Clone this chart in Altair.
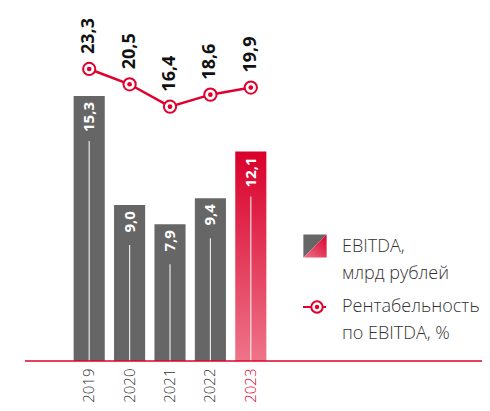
import altair as alt
import pandas as pd

years = ["2019", "2020", "2021", "2022", "2023"]
ebitda = [15.3, 9.0, 7.9, 9.4, 12.1]
ebitda_labels = ["15,3", "9,0", "7,9", "9,4", "12,1"]
margin = [23.3, 20.5, 16.4, 18.6, 19.9]
margin_labels = ["23,3", "20,5", "16,4", "18,6", "19,9"]
legend_texts = ["EBITDA,", "млрд рублей", "Рентабельность", "по EBITDA, %"]

RED = "#e1002d"
GRAY = "#666666"
TXT = "#333333"
FONT = "Open Sans"

df = pd.DataFrame({
    "year": years,
    "ebitda": ebitda,
    "elabel": ebitda_labels,
    "margin": margin,
    "mlabel": margin_labels,
})

bar_grad = alt.LinearGradient(
    gradient="linear",
    stops=[alt.GradientStop(color="#d9002b", offset=0),
           alt.GradientStop(color="#ee7489", offset=1)],
    x1=0, x2=0, y1=0, y2=1,
)
leg_grad = alt.LinearGradient(
    gradient="linear",
    stops=[alt.GradientStop(color="#d9002b", offset=0),
           alt.GradientStop(color="#ee7489", offset=1)],
    x1=1, x2=0, y1=0, y2=1,
)

base = alt.Chart(df)
xenc = alt.X(
    "year:N",
    sort=years,
    scale=alt.Scale(paddingInner=0.23, paddingOuter=0.115),
    axis=alt.Axis(
        title=None, labelAngle=-90, ticks=False, tickSize=0, domain=False,
        labelPadding=7, labelFontSize=15, labelFont=FONT, labelFontWeight=300,
        labelColor=alt.condition("datum.value == '2023'", alt.value(RED), alt.value(TXT)),
        grid=False,
    ),
)
ybar_scale = alt.Scale(domain=[0, 20.38], nice=False, zero=False)
ybar = alt.Y("ebitda:Q", scale=ybar_scale, axis=None)

gray_bars = base.transform_filter("datum.year != '2023'").mark_bar(color=GRAY).encode(x=xenc, y=ybar)
red_bar = base.transform_filter("datum.year == '2023'").mark_bar(color=bar_grad).encode(
    x=alt.X("year:N", sort=years), y=ybar)
bar_text = base.mark_text(
    angle=270, align="right", baseline="middle", dx=-6, color="white",
    font=FONT, fontWeight="bold", fontSize=15,
).encode(x=alt.X("year:N", sort=years), y=ybar, text="elabel:N")
white_rules = base.transform_calculate(
    top="datum.ebitda - (5 * length(datum.elabel) + 25) / 17.32"
).mark_rule(color="white", strokeWidth=1.2, opacity=0.85).encode(
    x=alt.X("year:N", sort=years),
    y=alt.Y("top:Q", scale=ybar_scale, axis=None),
    y2=alt.datum(0),
)
baseline = alt.Chart(pd.DataFrame({"v": [0]})).mark_rule(color=RED, strokeWidth=1.5).encode(
    x=alt.value(-44), x2=alt.value(420),
    y=alt.Y("v:Q", scale=ybar_scale, axis=None),
)

bars_layer = alt.layer(gray_bars, red_bar, white_rules, bar_text, baseline)

yline = alt.Y("margin:Q", scale=alt.Scale(domain=[-30.18, 34.47], nice=False, zero=False), axis=None)
line = base.mark_line(color=RED, strokeWidth=2.5).encode(x=alt.X("year:N", sort=years), y=yline)
pts = base.mark_point(shape="circle", size=150, filled=True, fill="white", stroke=RED,
                      strokeWidth=2, opacity=1).encode(x=alt.X("year:N", sort=years), y=yline)
dots = base.mark_point(shape="circle", size=22, filled=True, color=RED, opacity=1).encode(
    x=alt.X("year:N", sort=years), y=yline)
line_text = base.mark_text(
    angle=270, align="left", baseline="middle", dx=15, color="#111111",
    font=FONT, fontWeight="bold", fontSize=18,
).encode(x=alt.X("year:N", sort=years), y=yline, text="mlabel:N")

line_layer = alt.layer(line, pts, dots, line_text)

one = alt.Chart(pd.DataFrame({"k": [0]}))
leg_sq1 = one.mark_point(shape="M-1,-1L1,-1L-1,1Z", size=540, filled=True, fill=GRAY,
                         strokeWidth=0, opacity=1).encode(x=alt.value(246), y=alt.value(238))
leg_sq2 = one.mark_point(shape="M1,-1L1,1L-1,1Z", size=540, filled=True, fill=leg_grad,
                         strokeWidth=0, opacity=1).encode(x=alt.value(246), y=alt.value(238))
leg_line = one.mark_rule(color=RED, strokeWidth=2).encode(
    x=alt.value(234), x2=alt.value(257), y=alt.value(299))
leg_pt = one.mark_point(shape="circle", size=130, filled=True, fill="white", stroke=RED,
                        strokeWidth=2, opacity=1).encode(x=alt.value(248), y=alt.value(299))
leg_dot = one.mark_point(shape="circle", size=20, filled=True, color=RED, opacity=1).encode(
    x=alt.value(248), y=alt.value(299))
leg_ys = [239, 266, 299, 326]
leg_txt = [
    one.mark_text(align="left", baseline="middle", font=FONT, fontWeight=300, fontSize=18,
                  color=TXT).encode(x=alt.value(273), y=alt.value(yy), text=alt.value(t))
    for t, yy in zip(legend_texts, leg_ys)
]

chart = alt.layer(
    bars_layer, line_layer, leg_sq1, leg_sq2, leg_line, leg_pt, leg_dot, *leg_txt
).resolve_scale(y="independent").properties(
    width=202, height=353,
    autosize=alt.AutoSizeParams(type="none"),
    padding={"left": 61, "top": 0, "right": 211, "bottom": 42},
).configure_view(stroke=None)

chart.save("out.html", embed_options={"renderer": "svg", "actions": False})
